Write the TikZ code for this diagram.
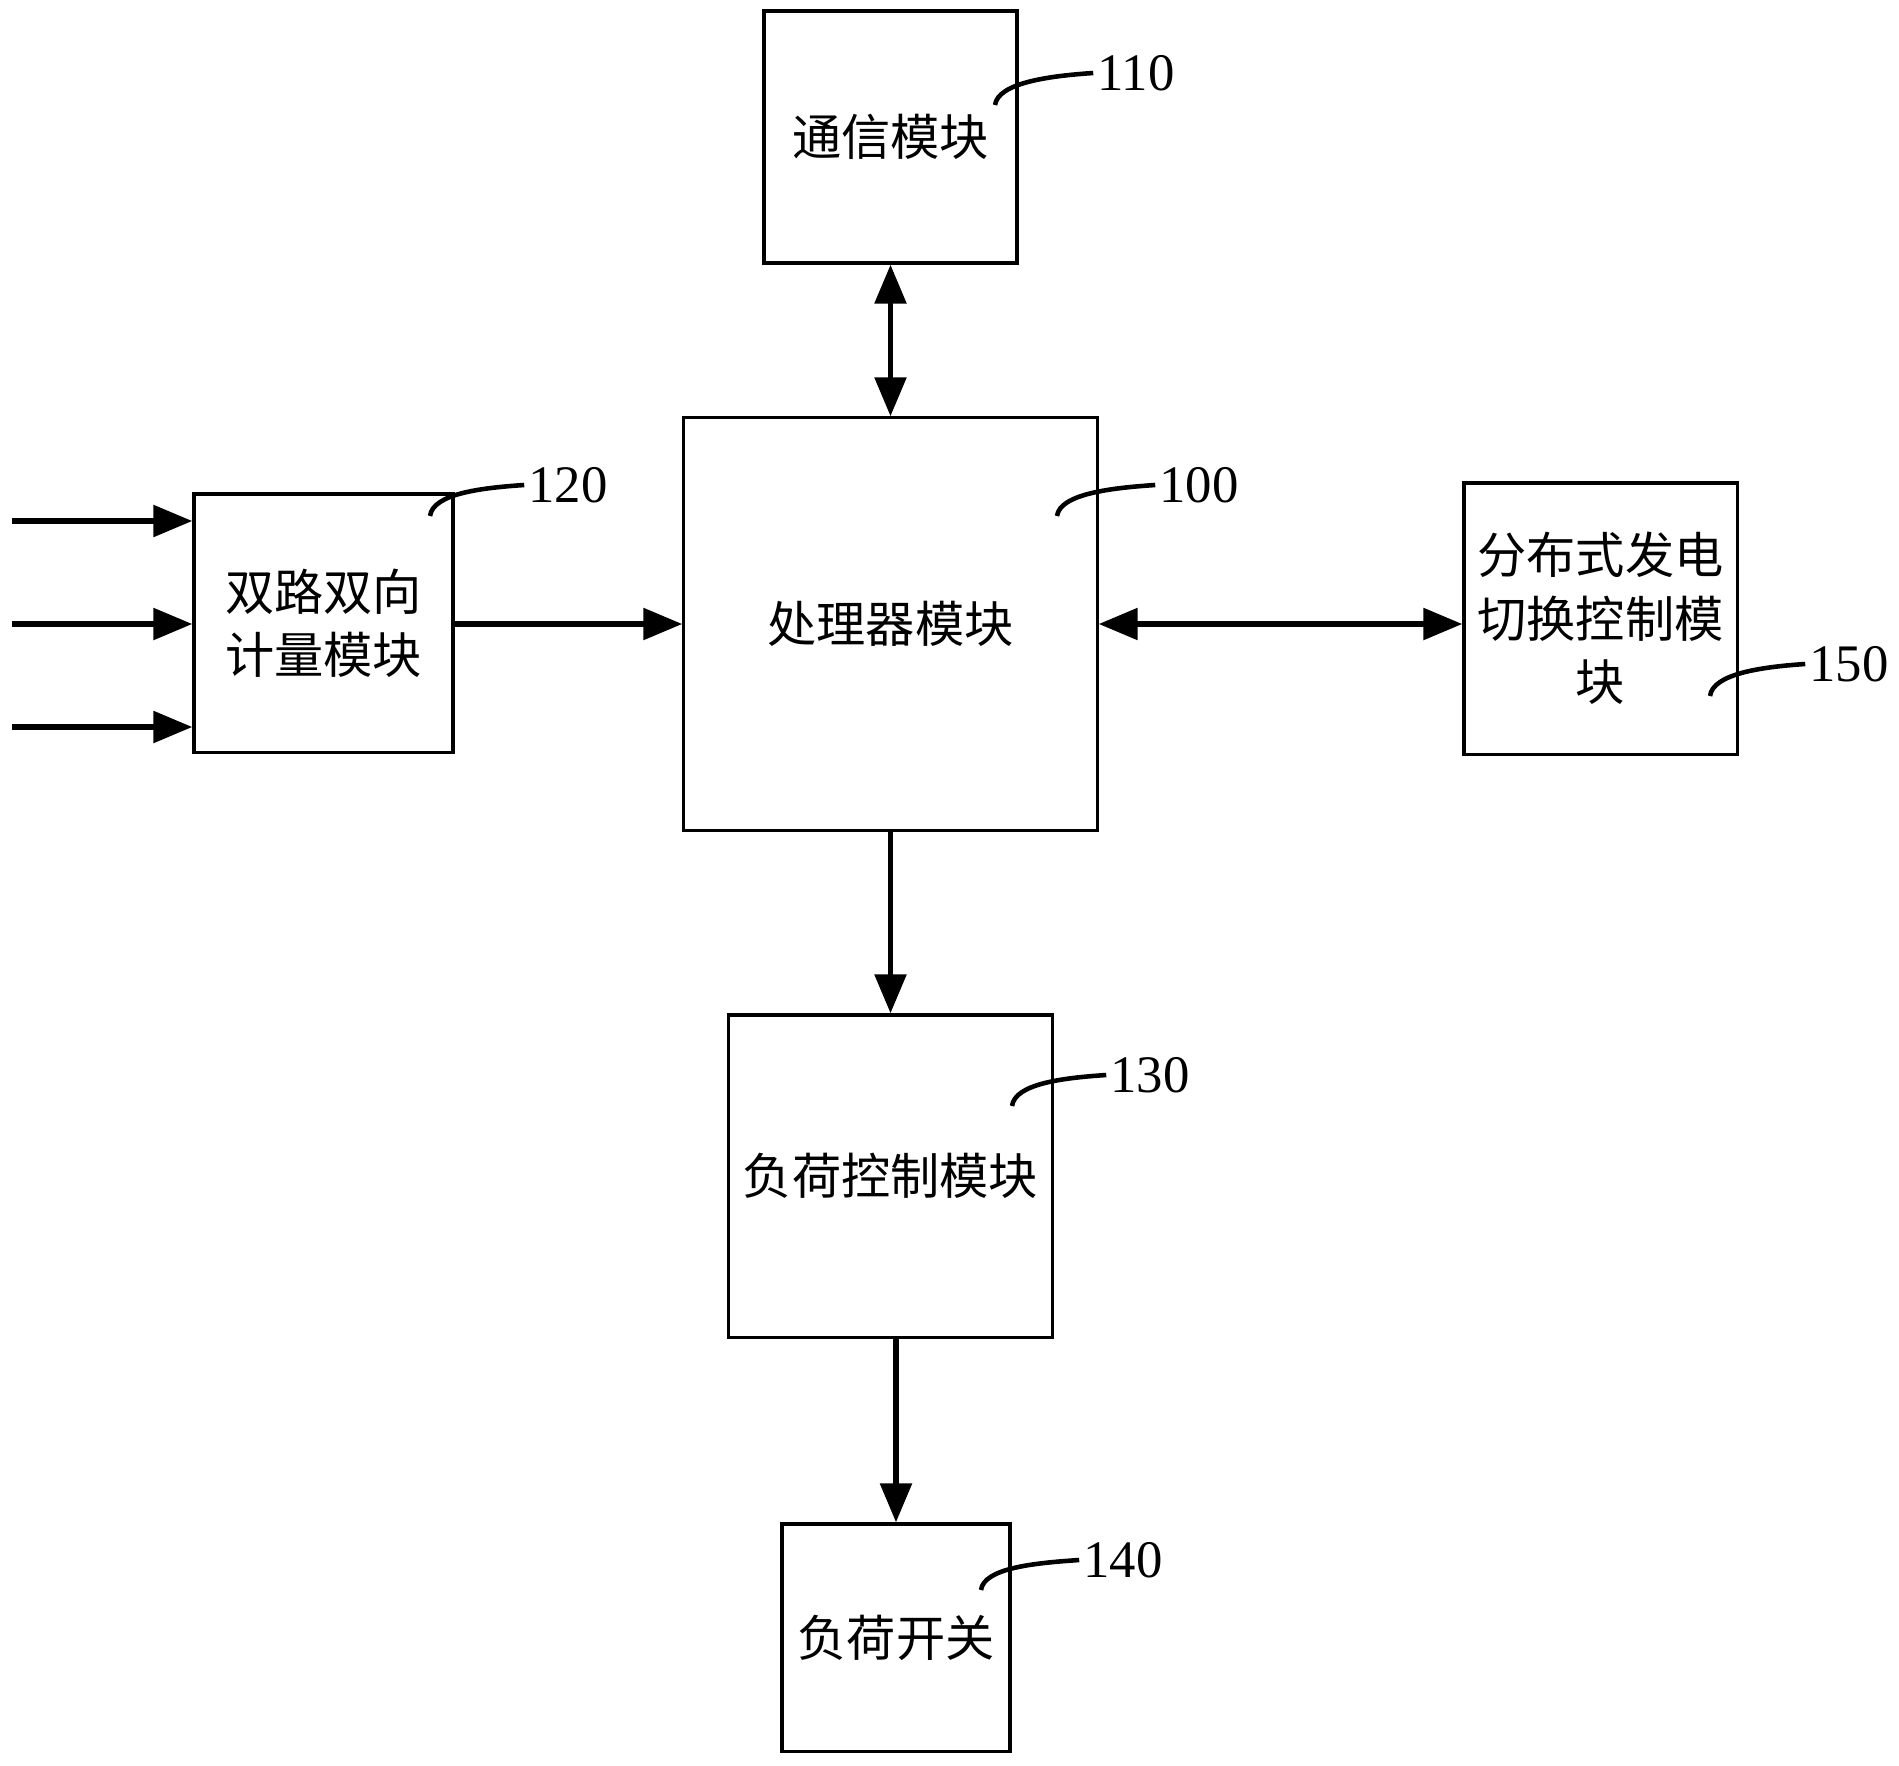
\documentclass[tikz,border=0pt]{standalone}
\usepackage{fontspec}
\setmainfont{Liberation Serif}
\newfontfamily\cjk{Noto Sans CJK SC}
\usetikzlibrary{arrows.meta}

\begin{document}
\begin{tikzpicture}[x=0.01cm, y=-0.01cm,
		blk/.style={draw, line width=0.9pt, inner sep=0pt, align=center, font=\cjk\fontsize{14}{18}\selectfont},
		arr/.style={line width=1.6pt, -{Triangle[length=0.39cm, width=0.31cm]}},
		biarr/.style={line width=1.6pt, {Triangle[length=0.39cm, width=0.31cm]}-{Triangle[length=0.39cm, width=0.31cm]}},
		num/.style={font=\fontsize{15}{18}\selectfont, inner sep=1pt},
		lead/.style={line width=1.3pt}]
		\useasboundingbox (0,0) rectangle (1899,1766);
		% blocks
		\node[blk, minimum width=2.53cm, minimum height=2.52cm] (n110) at (890.5,137) {通信模块};
		\node[blk, minimum width=4.13cm, minimum height=4.12cm] (n100) at (890.5,624) {处理器模块};
		\node[blk, minimum width=2.59cm, minimum height=2.58cm] (n120) at (323.5,623) {双路双向\\计量模块};
		\node[blk, minimum width=2.73cm, minimum height=2.71cm] (n150) at (1600.5,618.5) {分布式发电\\切换控制模\\块};
		\node[blk, minimum width=3.23cm, minimum height=3.22cm] (n130) at (890.5,1176) {负荷控制模块};
		\node[blk, minimum width=2.28cm, minimum height=2.27cm] (n140) at (896,1637.5) {负荷开关};
		% connectors
		\foreach \i/\y in {1/521,2/624,3/727} {
			\coordinate (in\i) at (12,\y);
			\draw[arr] (in\i) -- (in\i -| n120.west);
		}
		\draw[arr] (n120.east |- n100) -- (n100.west);
		\draw[biarr] (n110) -- (n100);
		\draw[biarr] (n100.east) -- (n100.east -| n150.west);
		\draw[arr] (n100) -- (n130);
		\draw[arr] (n140.north |- n130.south) -- (n140.north);
		% reference numbers
		\node[num] (l110) at (1136,73) {110};
		\node[num] (l120) at (568,485) {120};
		\node[num] (l100) at (1199,485) {100};
		\node[num] (l150) at (1849,664) {150};
		\node[num] (l130) at (1150,1075) {130};
		\node[num] (l140) at (1123,1560) {140};
		\coordinate (c110) at (995,105);
		\coordinate (c120) at (430,516);
		\coordinate (c100) at (1057,516);
		\coordinate (c150) at (1710,696);
		\coordinate (c130) at (1012,1106);
		\coordinate (c140) at (981,1590);
		\foreach \k in {110,120,100,150,130,140}
			\draw[lead] (c\k) .. controls +(3,-22) and +(-45,3) .. (l\k.west);
\end{tikzpicture}
\end{document}
